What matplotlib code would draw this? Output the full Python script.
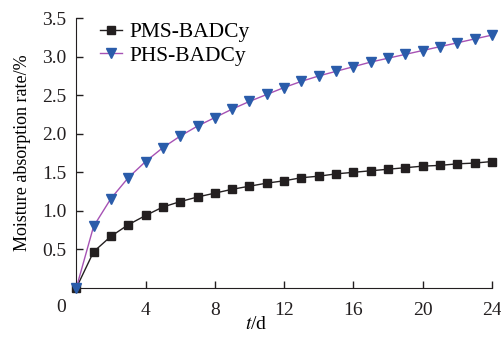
import numpy as np
import matplotlib.pyplot as plt
from matplotlib.legend_handler import HandlerLine2D

plt.rcParams['font.family'] = ['Liberation Serif', 'DejaVu Serif']
plt.rcParams['mathtext.fontset'] = 'stix'

days = list(range(0, 25))
pms = [0, 0.47, 0.67, 0.82, 0.94, 1.05, 1.12, 1.18, 1.23, 1.28, 1.32, 1.36, 1.39,
       1.43, 1.45, 1.48, 1.50, 1.52, 1.54, 1.56, 1.58, 1.59, 1.61, 1.62, 1.64]
phs = [0, 0.80, 1.16, 1.43, 1.64, 1.82, 1.97, 2.10, 2.21, 2.32, 2.42, 2.51, 2.60,
       2.68, 2.75, 2.81, 2.87, 2.93, 2.98, 3.03, 3.08, 3.13, 3.18, 3.23, 3.28]


# marker sits on the left end of the legend line
class LeftMarker(HandlerLine2D):
    def get_xdata(self, legend, xdescent, ydescent, width, height, fontsize):
        xdata = [-xdescent, -xdescent + width]
        return xdata, [-xdescent + 0.14 * width]


fig = plt.figure(figsize=(5.02, 3.42), dpi=100)
ax = fig.add_axes([0.152, 0.158, 0.828, 0.789])

ax.plot(days, pms, color='#231f20', lw=1.0, marker='s', ms=5.3, mfc='#231f20',
        mec='#231f20', label='PMS-BADCy', clip_on=False, zorder=3)
ax.plot(days, phs, color='#a652b4', lw=1.0, marker='v', ms=7, mfc='#2a5caa',
        mec='#2a5caa', label='PHS-BADCy', clip_on=False, zorder=3)

ax.set_xlim(0, 24)
ax.set_ylim(0, 3.5)
ax.set_xticks([4, 8, 12, 16, 20, 24])
ax.set_yticks([0.5, 1.0, 1.5, 2.0, 2.5, 3.0, 3.5])
ax.set_yticklabels(['0.5', '1.0', '1.5', '2.0', '2.5', '3.0', '3.5'])
ax.tick_params(direction='in', labelsize=14, length=5, width=1, colors='#231f20')
ax.tick_params(axis='x', pad=10)
ax.tick_params(axis='y', pad=7)
ax.spines['top'].set_visible(False)
ax.spines['right'].set_visible(False)
for s in ['left', 'bottom']:
    ax.spines[s].set_color('#231f20')
ax.text(-0.86, -0.25, '0', fontsize=14, ha='center', va='center', color='#231f20')

ax.set_xlabel('$t$/d', fontsize=14)
ax.xaxis.set_label_coords(0.433, -0.105)
ax.set_ylabel('Moisture absorption rate/%', fontsize=13)
ax.yaxis.set_label_coords(-0.11, 0.5)

ax.legend(loc='upper left', bbox_to_anchor=(0.058, 0.985), frameon=False, fontsize=15.5,
          handlelength=1.0, handletextpad=0.37, labelspacing=0.17, borderaxespad=0,
          borderpad=0, handler_map={plt.Line2D: LeftMarker()})

fig.savefig('out.png', dpi=100)
